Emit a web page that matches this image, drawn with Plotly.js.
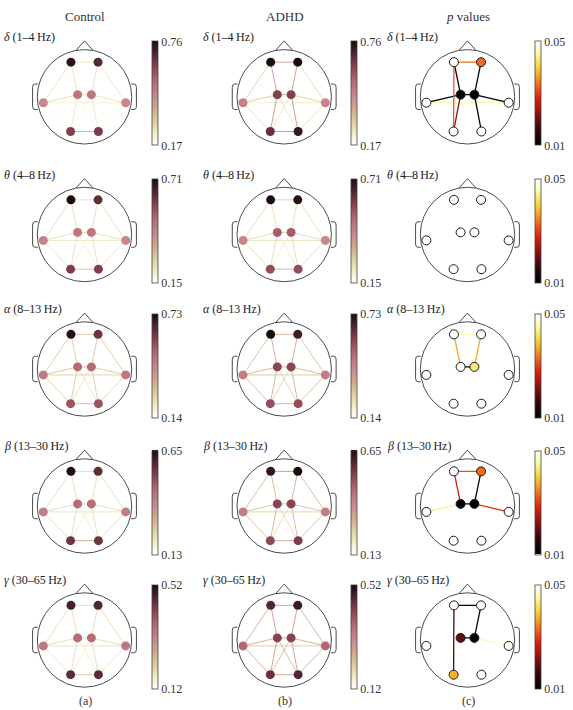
<!DOCTYPE html>
<html><head><meta charset="utf-8">
<script src="https://cdn.plot.ly/plotly-3.0.1.min.js"></script>
<style>html,body{margin:0;padding:0;background:#fff}#chart{width:573px;height:710px}</style>
</head><body><div id="chart"></div>
<script>
// ---------------- DATA ----------------
// electrode order: F3, F4, T3, C3, C4, T4, P3, P4 (head units, radius 1)
const electrodes = ['F3','F4','T3','C3','C4','T4','P3','P4'];
const electrodeX = [-0.287, 0.287, -0.872, -0.146, 0.146, 0.872, -0.295, 0.295];
const electrodeY = [0.734, 0.734, -0.125, 0.045, 0.045, -0.125, -0.735, -0.735];

// connections (pairs of electrode indices)
const edgeFrom = [0,0,1,0,1,3,2,4,2,3,4,2,5,6,0,1,3,4,2,3];
const edgeTo   = [1,3,4,2,5,4,3,5,5,6,7,6,7,7,6,7,7,6,4,5];

const bands = ['δ','θ','α','β','γ'];
const bandRanges = ['1–4','4–8','8–13','13–30','30–65'];
const groups = ['Control','ADHD','<i>p</i> values'];
const panelLetters = ['(a)','(b)','(c)'];
const bandMin = [0.17, 0.15, 0.14, 0.13, 0.12];
const bandMax = [0.76, 0.71, 0.73, 0.65, 0.52];
const pMin = 0.01, pMax = 0.05;

// node values
const deltaControlNodes = [0.74,0.68,0.45,0.50,0.50,0.45,0.62,0.63];
const deltaAdhdNodes    = [0.75,0.76,0.47,0.62,0.62,0.46,0.66,0.72];
const thetaControlNodes = [0.71,0.62,0.43,0.46,0.46,0.42,0.58,0.58];
const thetaAdhdNodes    = [0.71,0.69,0.42,0.52,0.52,0.42,0.55,0.55];
const alphaControlNodes = [0.71,0.62,0.46,0.50,0.50,0.46,0.55,0.55];
const alphaAdhdNodes    = [0.73,0.68,0.45,0.58,0.58,0.45,0.56,0.56];
const betaControlNodes  = [0.65,0.57,0.40,0.44,0.44,0.40,0.55,0.55];
const betaAdhdNodes     = [0.62,0.65,0.40,0.52,0.52,0.40,0.51,0.53];
const gammaControlNodes = [0.48,0.47,0.34,0.36,0.36,0.34,0.46,0.46];
const gammaAdhdNodes    = [0.47,0.49,0.37,0.42,0.42,0.37,0.45,0.47];

// edge values (same order as edgeFrom/edgeTo, null = no edge)
const deltaControlEdges = [0.25,0.26,0.26,0.26,0.25,0.28,0.28,0.26,0.23,0.25,0.25,0.21,0.21,0.36,null,null,0.20,0.20,null,null];
const deltaAdhdEdges    = [0.40,0.42,0.42,0.30,0.28,0.36,0.32,0.30,0.24,0.42,0.42,0.27,0.27,0.44,null,null,0.25,0.25,null,null];
const thetaControlEdges = [0.24,0.25,0.25,0.25,0.24,0.26,0.25,0.25,0.23,0.24,0.24,0.23,0.23,0.30,null,null,0.20,0.20,null,null];
const thetaAdhdEdges    = [0.28,0.25,0.25,0.25,0.24,0.27,0.25,0.25,0.24,0.25,0.25,0.24,0.24,0.33,null,null,0.21,0.21,null,null];
const alphaControlEdges = [0.28,0.29,0.29,0.28,0.28,0.30,0.29,0.29,0.27,0.28,0.28,0.26,0.26,0.31,null,null,0.23,0.23,null,null];
const alphaAdhdEdges    = [0.32,0.35,0.35,0.30,0.30,0.33,0.32,0.32,0.29,0.33,0.33,0.30,0.30,0.33,null,null,0.26,0.26,null,null];
const betaControlEdges  = [0.23,0.22,0.22,0.22,0.22,0.24,0.23,0.23,0.21,0.22,0.22,0.21,0.21,0.33,null,null,0.18,0.18,null,null];
const betaAdhdEdges     = [0.36,0.29,0.30,0.28,0.28,0.30,0.28,0.28,0.25,0.29,0.29,0.27,0.27,0.32,null,null,0.22,0.22,null,null];
const gammaControlEdges = [0.19,0.19,0.19,0.19,0.19,0.20,0.19,0.19,0.18,0.19,0.19,0.18,0.18,0.22,null,null,0.16,0.16,null,null];
const gammaAdhdEdges    = [0.28,0.28,0.28,0.25,0.25,0.27,0.26,0.26,0.22,0.28,0.28,0.25,0.25,0.28,null,null,0.24,0.24,null,null];

// p values (0.05 = not significant, null = no edge)
const deltaPNodes = [0.05,0.033,0.05,0.01,0.01,0.05,0.05,0.05];
const thetaPNodes = [0.05,0.05,0.05,0.05,0.05,0.05,0.05,0.05];
const alphaPNodes = [0.05,0.05,0.05,0.05,0.043,0.05,0.05,0.05];
const betaPNodes  = [0.05,0.033,0.05,0.01,0.01,0.05,0.05,0.05];
const gammaPNodes = [0.05,0.05,0.05,0.019,0.01,0.05,0.038,0.05];
const deltaPEdges = [0.033,0.01,0.01,null,null,0.01,0.01,0.01,0.046,0.022,0.01,null,null,null,0.032,null,null,null,null,null];
const thetaPEdges = [null,null,null,null,null,null,null,null,null,null,null,null,null,null,null,null,null,null,null,null];
const alphaPEdges = [0.046,0.037,0.037,null,null,0.01,null,null,null,null,null,null,null,null,null,null,null,null,null,null];
const betaPEdges  = [0.031,0.027,0.012,null,null,0.01,0.044,0.029,null,null,null,null,null,null,null,null,null,null,null,null];
const gammaPEdges = [0.012,null,0.012,null,null,0.01,null,0.046,null,null,null,null,null,null,0.018,null,null,null,null,null];

// ---------------- STYLE ----------------
const W = 573, H = 710, S = 47.2, R = 1.3;
const colCx = [84.5, 284.2, 467.5];
const rowCy = [96.8, 234.5, 369, 506, 640];
const cbX = [151.7, 351.2, 535.2];
const FONT = 'Liberation Serif, Times New Roman, serif';

const strengthScale = [[0,'#ffffff'],[0.1,'#f3efcd'],[0.22,'#ddd29e'],[0.35,'#cfa98c'],[0.48,'#c8868c'],[0.62,'#b46873'],[0.78,'#7c3b48'],[0.9,'#45202a'],[1,'#1a0a0e']];
const pScale = [[0,'#000000'],[0.12,'#220505'],[0.3,'#8a0f0f'],[0.45,'#e0200c'],[0.6,'#f57a1a'],[0.75,'#f5d335'],[0.88,'#fafaa8'],[1,'#ffffff']];

function hex2rgb(h){return [parseInt(h.substr(1,2),16),parseInt(h.substr(3,2),16),parseInt(h.substr(5,2),16)];}
function scaleColor(scale,t){
  t=Math.max(0,Math.min(1,t));
  for(let i=1;i<scale.length;i++){
    if(t<=scale[i][0]){
      const a=scale[i-1],b=scale[i];const f=(t-a[0])/(b[0]-a[0]);
      const ca=hex2rgb(a[1]),cb=hex2rgb(b[1]);
      return 'rgb('+ca.map((v,k)=>Math.round(v+(cb[k]-v)*f)).join(',')+')';
    }
  }
  return scale[scale.length-1][1];
}

const nodeData = [
  [deltaControlNodes, deltaAdhdNodes, deltaPNodes],
  [thetaControlNodes, thetaAdhdNodes, thetaPNodes],
  [alphaControlNodes, alphaAdhdNodes, alphaPNodes],
  [betaControlNodes, betaAdhdNodes, betaPNodes],
  [gammaControlNodes, gammaAdhdNodes, gammaPNodes]
];
const edgeData = [
  [deltaControlEdges, deltaAdhdEdges, deltaPEdges],
  [thetaControlEdges, thetaAdhdEdges, thetaPEdges],
  [alphaControlEdges, alphaAdhdEdges, alphaPEdges],
  [betaControlEdges, betaAdhdEdges, betaPEdges],
  [gammaControlEdges, gammaAdhdEdges, gammaPEdges]
];

const traces = [], shapes = [], annotations = [];
const layout = {
  width: W, height: H, margin:{l:0,r:0,t:0,b:0},
  paper_bgcolor:'#fff', plot_bgcolor:'rgba(0,0,0,0)',
  showlegend:false, font:{family:FONT, color:'#222'}, hovermode:false
};

let k = 0;
for (let r=0;r<5;r++){
  for (let c=0;c<3;c++){
    k++;
    const xa = k===1?'x':'x'+k, ya = k===1?'y':'y'+k;
    const xk = k===1?'xaxis':'xaxis'+k, yk = k===1?'yaxis':'yaxis'+k;
    const cx = colCx[c], cy = rowCy[r];
    const ax = {showgrid:false, zeroline:false, showticklabels:false, ticks:'', showline:false, fixedrange:true, range:[-R,R]};
    layout[xk] = Object.assign({}, ax, {domain:[(cx-R*S)/W,(cx+R*S)/W], anchor:ya});
    layout[yk] = Object.assign({}, ax, {domain:[(H-cy-R*S)/H,(H-cy+R*S)/H], anchor:xa});

    const isP = c===2;
    const cmin = isP ? pMin : bandMin[r], cmax = isP ? pMax : bandMax[r];
    const scale = isP ? pScale : strengthScale;

    // head outline
    const hl = {color:'#4a4a4a', width:1};
    shapes.push({type:'circle', xref:xa, yref:ya, x0:-1, y0:-1, x1:1, y1:1, line:hl, layer:'below'});
    shapes.push({type:'path', xref:xa, yref:ya, path:'M -0.18 0.984 L 0 1.185 L 0.18 0.984', line:hl, layer:'below'});
    shapes.push({type:'path', xref:xa, yref:ya, path:'M -0.99 0.27 L -1.05 0.27 Q -1.1 0.27 -1.1 0.2 L -1.1 -0.2 Q -1.1 -0.27 -1.05 -0.27 L -0.99 -0.27', line:hl, layer:'below'});
    shapes.push({type:'path', xref:xa, yref:ya, path:'M 0.99 0.27 L 1.05 0.27 Q 1.1 0.27 1.1 0.2 L 1.1 -0.2 Q 1.1 -0.27 1.05 -0.27 L 0.99 -0.27', line:hl, layer:'below'});

    // edges
    const ev = edgeData[r][c];
    ev.forEach((v,i)=>{
      if (v===null) return;
      const a=edgeFrom[i], b=edgeTo[i];
      traces.push({type:'scatter', mode:'lines', xaxis:xa, yaxis:ya,
        x:[electrodeX[a],electrodeX[b]], y:[electrodeY[a],electrodeY[b]],
        line:{color:scaleColor(scale,(v-cmin)/(cmax-cmin)), width:isP?1.3:0.9}, hoverinfo:'skip'});
    });

    // nodes with colorbar
    const nv = nodeData[r][c];
    traces.push({type:'scatter', mode:'markers', xaxis:xa, yaxis:ya,
      x:electrodeX, y:electrodeY, text:electrodes, hoverinfo:'skip',
      marker:{size:9, color:nv, colorscale:scale, cmin:cmin, cmax:cmax,
        line:{color:isP?'#1a1a1a':'rgba(0,0,0,0)', width:isP?1:0},
        showscale:true,
        colorbar:{x:cbX[c]/W, xanchor:'left', xpad:0, xref:'paper',
          y:1-(cy-3.5)/H, yanchor:'middle', ypad:0, yref:'paper',
          len:104, lenmode:'pixels', thickness:6, thicknessmode:'pixels',
          outlinewidth:0.8, outlinecolor:'#444', borderwidth:0,
          tickmode:'array', tickvals:[cmin,cmax], ticktext:[cmin.toFixed(2),cmax.toFixed(2)],
          ticks:'', ticklabelposition:'outside',
          tickfont:{family:FONT, size:12, color:'#333'}}
      }});

    // band label
    annotations.push({xref:'paper', yref:'paper', x:(colCx[c]-83)/W, y:1-(cy-60)/H,
      xanchor:'left', yanchor:'middle', showarrow:false,
      text:'<i>'+bands[r]+'</i> ('+bandRanges[r]+'\u2009Hz)', font:{family:FONT, size:12, color:'#222'}});
  }
}
// column titles & letters
const titleX = [85, 285, 468];
groups.forEach((g,c)=>{
  annotations.push({xref:'paper', yref:'paper', x:titleX[c]/W, y:1-16.5/H, xanchor:'center', yanchor:'middle',
    showarrow:false, text:g, font:{family:FONT, size:13, color:'#333'}});
  annotations.push({xref:'paper', yref:'paper', x:titleX[c]/W, y:1-701/H, xanchor:'center', yanchor:'middle',
    showarrow:false, text:panelLetters[c], font:{family:FONT, size:12, color:'#333'}});
});
layout.shapes = shapes;
layout.annotations = annotations;

Plotly.newPlot('chart', traces, layout, {staticPlot:true, displayModeBar:false});
</script>
</body></html>
